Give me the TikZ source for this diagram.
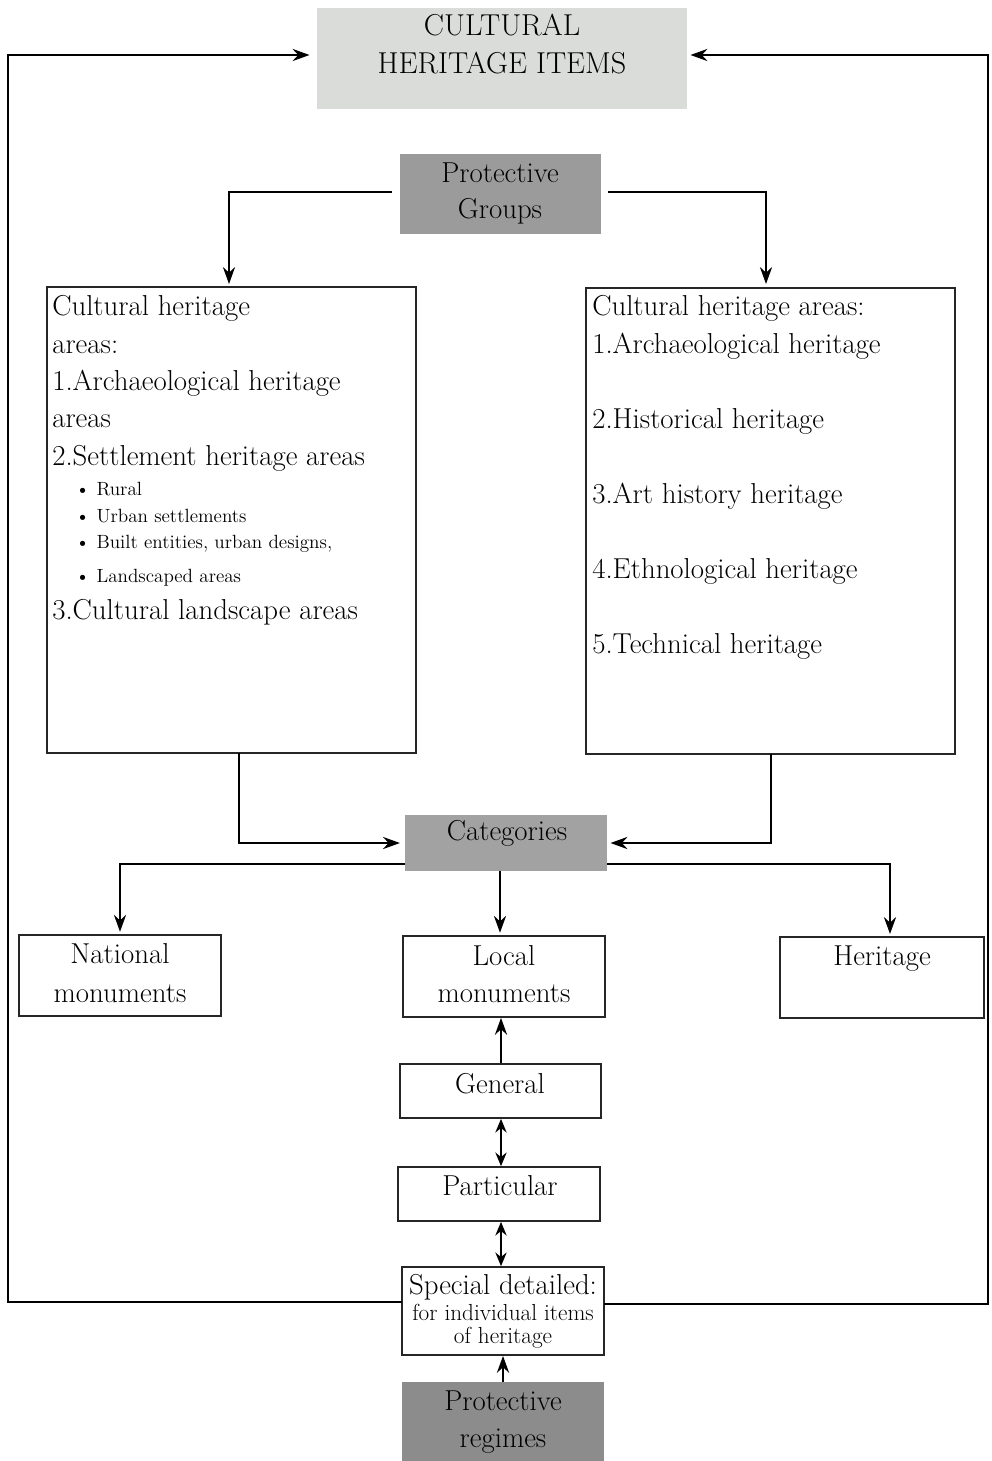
\documentclass[tikz,border=0pt]{standalone}
\usetikzlibrary{arrows.meta,fit,calc}
\definecolor{lightg}{RGB}{217,220,217}
\definecolor{midg}{RGB}{155,155,155}
\definecolor{catg}{RGB}{162,162,162}
\definecolor{darkg}{RGB}{140,140,140}
\begin{document}
\begin{tikzpicture}[x=0.025cm,y=-0.025cm,
  box/.style={draw=black!85,line width=1.2pt,inner sep=0pt,fit={#1}},
  fillbox/.style 2 args={fill=#1,draw=none,inner sep=0pt,fit={#2}},
  big/.style={font=\fontsize{20.5}{24}\selectfont,inner sep=0pt},
  small/.style={font=\fontsize{13.6}{16}\selectfont,inner sep=0pt},
  mid/.style={font=\fontsize{16.5}{19}\selectfont,inner sep=0pt},
  arr/.style={line width=2.1pt,-{Stealth[length=0.42cm,width=0.3cm]}},
  darr/.style={line width=2.1pt,{Stealth[length=0.34cm,width=0.28cm]}-{Stealth[length=0.34cm,width=0.28cm]}},
  fb/.style={line width=1.8pt,-{Stealth[length=0.42cm,width=0.3cm]}}]
\useasboundingbox (0,0) rectangle (992,1461);

% boxes
\node[fillbox={lightg}{(317,8) (687,109)}] (chi) {};
\node[fillbox={midg}{(400,154) (601,234)}] (pg) {};
\node[box={(47,287) (416,753)}] (lbox) {};
\node[box={(586,288) (955,754)}] (rbox) {};
\node[fillbox={catg}{(405,815) (607,871)}] (cat) {};
\node[box={(19,935) (221,1016)}] (nat) {};
\node[box={(403,936) (605,1017)}] (loc) {};
\node[box={(780,937) (984,1018)}] (her) {};
\node[box={(400,1064) (601,1118)}] (gen) {};
\node[box={(398,1167) (600,1221)}] (par) {};
\node[box={(402,1267) (604,1355)}] (sd) {};
\node[fillbox={darkg}{(402,1382) (604,1461)}] (pr) {};

% texts in boxes
\node[big,anchor=base,font=\fontsize{21.5}{25}\selectfont] (chi1) at (502,35) {CULTURAL};
\node[big,anchor=base,font=\fontsize{21.5}{25}\selectfont] (chi2) at (502,73) {HERITAGE ITEMS};
\node[big,anchor=base] (pg1) at (500,182) {Protective};
\node[big,anchor=base] (pg2) at (500,218) {Groups};
\node[big,anchor=base] (cat1) at (507,840) {Categories};
\node[big,anchor=base] (nat1) at (120,963) {National};
\node[big,anchor=base] (nat2) at (120,1002) {monuments};
\node[big,anchor=base] (loc1) at (504,965) {Local};
\node[big,anchor=base] (loc2) at (504,1002) {monuments};
\node[big,anchor=base] (her1) at (882,965) {Heritage};
\node[big,anchor=base] (gen1) at (500,1093) {General};
\node[big,anchor=base] (par1) at (500,1195) {Particular};
\node[big,anchor=base] (sd1) at (503,1294) {Special detailed:};
\node[mid,anchor=base] (sd2) at (503,1320) {for individual items};
\node[mid,anchor=base] (sd3) at (503,1343) {of heritage};
\node[big,anchor=base] (pr1) at (503,1410) {Protective};
\node[big,anchor=base] (pr2) at (503,1447) {regimes};

% left box text
\node[big,anchor=base west] (l1) at (52,315) {Cultural heritage};
\node[big,anchor=base west] (l2) at (52,353) {areas:};
\node[big,anchor=base west] (l3) at (52,390) {1.Archaeological heritage};
\node[big,anchor=base west] (l4) at (52,427) {areas};
\node[big,anchor=base west] (l5) at (52,465) {2.Settlement heritage areas};
\node[small,anchor=base west] (b1) at (75,495) {\textbullet\hspace{0.35em}Rural};
\node[small,anchor=base west] (b2) at (75,522) {\textbullet\hspace{0.35em}Urban settlements};
\node[small,anchor=base west] (b3) at (75,548) {\textbullet\hspace{0.35em}Built entities, urban designs,};
\node[small,anchor=base west] (b4) at (75,582) {\textbullet\hspace{0.35em}Landscaped areas};
\node[big,anchor=base west] (l6) at (52,619) {3.Cultural landscape areas};

% right box text
\node[big,anchor=base west] (r1) at (592,315) {Cultural heritage areas:};
\node[big,anchor=base west] (r2) at (592,353) {1.Archaeological heritage};
\node[big,anchor=base west] (r3) at (592,428) {2.Historical heritage};
\node[big,anchor=base west] (r4) at (592,503) {3.Art history heritage};
\node[big,anchor=base west] (r5) at (592,578) {4.Ethnological heritage};
\node[big,anchor=base west] (r6) at (592,653) {5.Technical heritage};

% helper coordinates
\coordinate (pgL) at (392,192);
\coordinate (pgR) at (608,192);
\coordinate (lin) at (229,284);
\coordinate (rin) at (766,284);
\coordinate (lout) at (239,753);
\coordinate (rout) at (771,754);
\coordinate (catL) at (405,864);
\coordinate (catR) at (607,864);
\coordinate (herin) at (890,934);
\coordinate (sdL) at (402,1302);
\coordinate (sdR) at (604,1304);
\coordinate (fl) at (8,55);
\coordinate (fr) at (988,55);

% connectors
\draw[arr] (pgL) -| (lin);
\draw[arr] (pgR) -| (rin);
\draw[arr,shorten >=0.12cm] (lout) |- (cat.west);
\draw[arr,shorten >=0.08cm] (rout) |- (cat.east);
\draw[arr,shorten >=0.06cm] (catL) -| (nat.north);
\draw[arr,shorten >=0.06cm] (cat.south -| 500,0) -- (loc.north -| 500,0);
\draw[arr] (catR) -| (herin);
\draw[arr] (gen.north -| 501,0) -- (loc.south -| 501,0);
\draw[darr] (gen.south -| 501,0) -- (par.north -| 501,0);
\draw[darr] (par.south -| 501,0) -- (sd.north -| 501,0);
\draw[arr] (pr.north -| 503,0) -- (sd.south -| 503,0);
\draw[fb,shorten >=0.18cm] (sdL) -| (fl) -- (chi.west |- fl);
\draw[fb,shorten >=0.08cm] (sdR) -| (fr) -- (chi.east |- fr);
\end{tikzpicture}
\end{document}
